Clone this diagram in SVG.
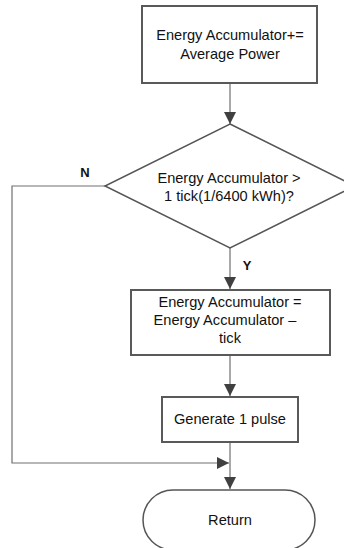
<svg xmlns="http://www.w3.org/2000/svg" width="344" height="548" viewBox="0 0 344 548">
<defs>
<marker id="arr" markerWidth="12" markerHeight="12" refX="10" refY="5" orient="auto" markerUnits="userSpaceOnUse" viewBox="0 0 10 10">
<path d="M0,0 L10,5 L0,10 Z" fill="#404040"/>
</marker>
<style>
.box{fill:#fff;stroke:#595959;stroke-width:2}
.dia{fill:#fff;stroke:#555;stroke-width:1.5}
.ln{fill:none;stroke:#707070;stroke-width:1.2}
.t{font-family:"Liberation Sans",Arial,sans-serif;font-size:14.6px;fill:#111;text-anchor:middle}
.lb{font-family:"Liberation Sans",Arial,sans-serif;font-size:13px;font-weight:bold;fill:#111;text-anchor:middle}
</style>
</defs>
<rect width="344" height="548" fill="#fff"/>
<g id="connectors">
<line class="ln" x1="230" y1="83" x2="230" y2="124" marker-end="url(#arr)"/>
<line class="ln" x1="230" y1="248" x2="230" y2="289" marker-end="url(#arr)"/>
<line class="ln" x1="230" y1="355" x2="230" y2="396" marker-end="url(#arr)"/>
<line class="ln" x1="230" y1="442" x2="230" y2="489" marker-end="url(#arr)"/>
<polyline class="ln" points="105,186 12,186 12,463 229,463" marker-end="url(#arr)"/>
<text class="lb" x="85" y="177">N</text>
<text class="lb" x="247" y="270">Y</text>
</g>
<g id="n1">
<rect class="box" x="142" y="6" width="175" height="77"/>
<text class="t" x="230" y="40">Energy Accumulator+=</text>
<text class="t" x="230" y="59">Average Power</text>
</g>
<g id="n2">
<polygon class="dia" points="230,124 355,186 230,248 105,186"/>
<text class="t" x="229" y="183">Energy Accumulator &gt;</text>
<text class="t" x="229" y="201">1 tick(1/6400 kWh)?</text>
</g>
<g id="n3">
<rect class="box" x="131" y="290" width="199" height="65"/>
<text class="t" x="230" y="307">Energy Accumulator =</text>
<text class="t" x="225" y="325">Energy Accumulator –</text>
<text class="t" x="230" y="343">tick</text>
</g>
<g id="n4">
<rect class="box" x="162" y="397" width="136" height="45"/>
<text class="t" x="230" y="424">Generate 1 pulse</text>
</g>
<g id="n5">
<rect class="dia" x="143" y="490" width="172" height="60" rx="30" ry="30"/>
<text class="t" x="230" y="525">Return</text>
</g>
</svg>
